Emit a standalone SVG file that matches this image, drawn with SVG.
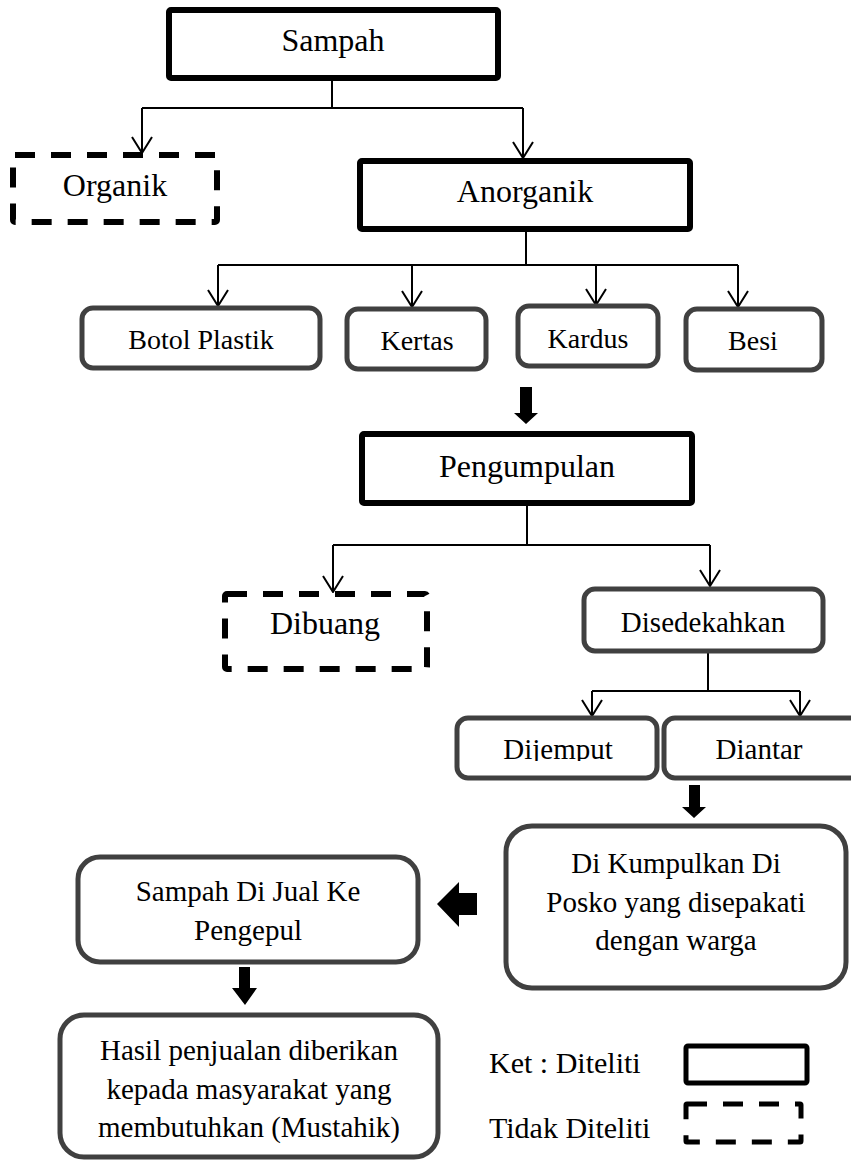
<svg xmlns="http://www.w3.org/2000/svg" width="851" height="1161" viewBox="0 0 851 1161" font-family="Liberation Serif, serif">
<style>
text{font-family:"Liberation Serif",serif}
.t{fill:#000;text-anchor:middle}
.big{font-size:32px}
.mid{font-size:28px}
.sm{font-size:29px}
.solid{fill:#fff;stroke:#000;stroke-width:6}
.dash{fill:#fff;stroke:#000;stroke-width:6;stroke-dasharray:20 16}
.round{fill:#fff;stroke:#404040;stroke-width:5}
.ln{fill:none;stroke:#000;stroke-width:2}
.arr{fill:none;stroke:#000;stroke-width:2;marker-end:url(#v)}
.blk{fill:#000}
</style>
<defs>
<marker id="v" viewBox="0 0 18 22" refX="17" refY="11" markerWidth="18" markerHeight="22" markerUnits="userSpaceOnUse" orient="auto">
<path d="M1,1 L17,11 L1,21" fill="none" stroke="#000" stroke-width="2"/>
</marker>
<clipPath id="cDij"><rect x="457" y="717" width="200" height="44"/></clipPath>
</defs>
<g id="connectors">
<path class="ln" d="M332,78 V108 M142,108 H523"/>
<path class="arr" d="M142,108 V153"/>
<path class="arr" d="M523,108 V158"/>
<path class="ln" d="M526,230 V265 M218,265 H738"/>
<path class="arr" d="M218,265 V306"/>
<path class="arr" d="M412,265 V307"/>
<path class="arr" d="M596,265 V305"/>
<path class="arr" d="M738,265 V307"/>
<polygon class="blk" points="520,387 532,387 532,413 538,413 526,424 514,413 520,413"/>
<path class="ln" d="M527,504 V545 M333,545 H710"/>
<path class="arr" d="M333,545 V592"/>
<path class="arr" d="M710,545 V586"/>
<path class="ln" d="M708,651 V691 M592,691 H800"/>
<path class="arr" d="M592,691 V716"/>
<path class="arr" d="M800,691 V716"/>
<polygon class="blk" points="689,785 700,785 700,807 706,807 694,818 682,807 689,807"/>
<polygon class="blk" points="437,904 459,882 459,893 477,893 477,915 459,915 459,927"/>
<polygon class="blk" points="239,967 250,967 250,988 257,988 245,1005 232,988 239,988"/>
</g>
<g id="sampah">
<rect class="solid" x="169" y="10" width="329" height="68" rx="2"/>
<text class="t big" x="333" y="51">Sampah</text>
</g>
<g id="organik">
<rect class="dash" x="13" y="155" width="204" height="67" rx="2"/>
<text class="t big" x="115" y="196">Organik</text>
</g>
<g id="anorganik">
<rect class="solid" x="360" y="161" width="330" height="68" rx="2"/>
<text class="t big" x="525" y="202">Anorganik</text>
</g>
<g id="botol">
<rect class="round" x="82" y="308" width="238" height="60" rx="11"/>
<text class="t mid" x="201" y="349">Botol Plastik</text>
</g>
<g id="kertas">
<rect class="round" x="347" y="309" width="139" height="60" rx="11"/>
<text class="t mid" x="417" y="350">Kertas</text>
</g>
<g id="kardus">
<rect class="round" x="518" y="306" width="140" height="60" rx="11"/>
<text class="t mid" x="588" y="348">Kardus</text>
</g>
<g id="besi">
<rect class="round" x="686" y="309" width="136" height="61" rx="11"/>
<text class="t mid" x="753" y="350">Besi</text>
</g>
<g id="pengumpulan">
<rect class="solid" x="362" y="434" width="330" height="69" rx="2"/>
<text class="t big" x="527" y="477">Pengumpulan</text>
</g>
<g id="dibuang">
<rect class="dash" x="225" y="594" width="202" height="75" rx="2"/>
<text class="t big" x="325" y="634">Dibuang</text>
</g>
<g id="disedekahkan">
<rect class="round" x="584" y="589" width="239" height="62" rx="11"/>
<text class="t sm" x="703" y="632">Disedekahkan</text>
</g>
<g id="dijemput">
<rect class="round" x="457" y="718" width="200" height="60" rx="11"/>
<text class="t sm" x="558" y="759" clip-path="url(#cDij)">Dijemput</text>
</g>
<g id="diantar">
<rect class="round" x="664" y="718" width="200" height="60" rx="11"/>
<text class="t sm" x="759" y="759">Diantar</text>
</g>
<g id="kumpulkan">
<rect class="round" x="506" y="826" width="340" height="162" rx="26"/>
<text class="t sm" x="676" y="873">Di Kumpulkan Di</text>
<text class="t sm" x="676" y="912">Posko yang disepakati</text>
<text class="t sm" x="676" y="950">dengan warga</text>
</g>
<g id="jual">
<rect class="round" x="78" y="857" width="340" height="105" rx="22"/>
<text class="t sm" x="248" y="901">Sampah Di Jual Ke</text>
<text class="t sm" x="248" y="940">Pengepul</text>
</g>
<g id="hasil">
<rect class="round" x="60" y="1015" width="378" height="142" rx="24"/>
<text class="t sm" x="249" y="1060">Hasil penjualan diberikan</text>
<text class="t sm" x="249" y="1099">kepada masyarakat yang</text>
<text class="t sm" x="249" y="1137">membutuhkan (Mustahik)</text>
</g>
<g id="legend">
<text style="font-size:30px;fill:#000" x="489" y="1073">Ket : Diteliti</text>
<rect fill="#fff" stroke="#000" stroke-width="5" x="686" y="1046" width="121" height="37" rx="2"/>
<text style="font-size:30px;fill:#000" x="489" y="1138">Tidak Diteliti</text>
<rect fill="#fff" stroke="#000" stroke-width="5" stroke-dasharray="20 16" x="686" y="1104" width="115" height="38" rx="1"/>
</g>
</svg>
